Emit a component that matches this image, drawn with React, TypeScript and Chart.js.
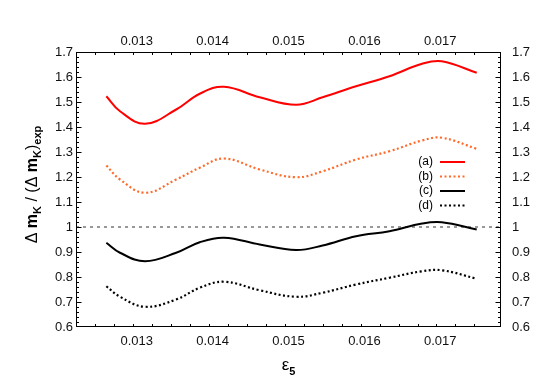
import { useEffect, useRef } from "react";
import { Chart, registerables } from "chart.js";

Chart.register(...registerables);

// ---- data ----
const xValues = [0.0126, 0.01278, 0.01311, 0.01352, 0.01383, 0.01415, 0.01462, 0.0151, 0.01545, 0.01589, 0.01633, 0.01676, 0.01702, 0.01748];
const seriesA = [1.523, 1.463, 1.413, 1.47, 1.533, 1.561, 1.519, 1.489, 1.519, 1.563, 1.603, 1.653, 1.663, 1.617];
const seriesB = [1.246, 1.19, 1.137, 1.19, 1.237, 1.274, 1.23, 1.199, 1.223, 1.27, 1.303, 1.346, 1.357, 1.313];
const seriesC = [0.937, 0.897, 0.863, 0.897, 0.939, 0.957, 0.93, 0.908, 0.926, 0.963, 0.983, 1.014, 1.019, 0.99];
const seriesD = [0.763, 0.721, 0.681, 0.71, 0.757, 0.781, 0.747, 0.721, 0.737, 0.77, 0.797, 0.823, 0.827, 0.793];
const seriesLabels = ["(a)", "(b)", "(c)", "(d)"];
const xTicks = [0.013, 0.014, 0.015, 0.016, 0.017];
const yTicks = [0.6, 0.7, 0.8, 0.9, 1.0, 1.1, 1.2, 1.3, 1.4, 1.5, 1.6, 1.7];
const xRange = [0.0122, 0.0178];
const yRange = [0.6, 1.7];
const xMinorStep = 0.00025;
const yMinorStep = 0.02;
const refLevel = 1;

const FONT = "'Liberation Sans', Arial, Helvetica, sans-serif";

const toPoints = (ys: number[]) => ys.map((y, i) => ({ x: xValues[i], y }));

const decorPlugin = {
  id: "decor",
  afterDraw(chart: any) {
    const { ctx, chartArea: a, scales } = chart;
    const sx = scales.x;
    const sy = scales.y;
    ctx.save();
    ctx.strokeStyle = "#000";
    ctx.lineWidth = 1;
    const L = Math.round(a.left) + 0.5;
    const R = Math.round(a.right) - 0.5;
    const T = Math.round(a.top) + 0.5;
    const B = Math.round(a.bottom) - 0.5;
    ctx.strokeRect(L, T, R - L, B - T);

    const tick = (x1: number, y1: number, x2: number, y2: number) => {
      ctx.beginPath();
      ctx.moveTo(x1, y1);
      ctx.lineTo(x2, y2);
      ctx.stroke();
    };
    const nx = Math.round((xRange[1] - xRange[0]) / xMinorStep);
    for (let i = 1; i < nx; i++) {
      const v = xRange[0] + i * xMinorStep;
      const major = xTicks.some((t) => Math.abs(t - v) < 1e-7);
      const len = major ? 5 : 2.5;
      const px = Math.round(sx.getPixelForValue(v)) + 0.5;
      tick(px, T, px, T + len);
      tick(px, B, px, B - len);
    }
    const ny = Math.round((yRange[1] - yRange[0]) / yMinorStep);
    for (let i = 1; i < ny; i++) {
      const v = yRange[0] + i * yMinorStep;
      const major = yTicks.some((t) => Math.abs(t - v) < 1e-7);
      const len = major ? 5 : 2.5;
      const py = Math.round(sy.getPixelForValue(v)) + 0.5;
      tick(L, py, L + len, py);
      tick(R, py, R - len, py);
    }

    // legend
    ctx.font = `12px ${FONT}`;
    ctx.textAlign = "right";
    ctx.textBaseline = "middle";
    seriesLabels.forEach((lab, i) => {
      const ds = chart.data.datasets[i];
      const y = a.top + 110 + i * 14.5;
      ctx.fillStyle = "#000";
      ctx.fillText(lab, a.right - 68, y);
      ctx.save();
      ctx.strokeStyle = ds.borderColor;
      ctx.lineWidth = ds.borderWidth;
      ctx.setLineDash(ds.borderDash || []);
      ctx.beginPath();
      ctx.moveTo(a.right - 61, y);
      ctx.lineTo(a.right - 36, y);
      ctx.stroke();
      ctx.restore();
    });

    // y title (rotated, with subscripts)
    ctx.fillStyle = "#000";
    ctx.textAlign = "left";
    ctx.textBaseline = "alphabetic";
    const pieces = [
      { t: "\u0394 ", f: `16px ${FONT}`, d: 0 },
      { t: "m", f: `bold 16px ${FONT}`, d: 0 },
      { t: "K", f: `bold 11px ${FONT}`, d: 4 },
      { t: " / (", f: `16px ${FONT}`, d: 0 },
      { t: "\u0394 ", f: `16px ${FONT}`, d: 0 },
      { t: "m", f: `bold 16px ${FONT}`, d: 0 },
      { t: "K", f: `bold 11px ${FONT}`, d: 4 },
      { t: ")", f: `16px ${FONT}`, d: 0 },
      { t: "exp", f: `bold 11px ${FONT}`, d: 4 },
    ];
    let total = 0;
    pieces.forEach((p) => {
      ctx.font = p.f;
      total += ctx.measureText(p.t).width;
    });
    ctx.save();
    ctx.translate(37, (a.top + a.bottom) / 2 - 5);
    ctx.rotate(-Math.PI / 2);
    let cx = -total / 2;
    pieces.forEach((p) => {
      ctx.font = p.f;
      ctx.fillText(p.t, cx, p.d);
      cx += ctx.measureText(p.t).width;
    });
    ctx.restore();

    // x title
    ctx.font = `17px ${FONT}`;
    const w1 = ctx.measureText("\u03b5").width;
    ctx.font = `bold 11px ${FONT}`;
    const w2 = ctx.measureText("5").width;
    const startX = (a.left + a.right) / 2 - (w1 + w2) / 2;
    ctx.font = `17px ${FONT}`;
    ctx.fillText("\u03b5", startX, 370);
    ctx.font = `bold 11px ${FONT}`;
    ctx.fillText("5", startX + w1, 375);
    ctx.restore();
  },
};

const tickFont = { family: FONT, size: 13 };

function xAxis(position: string, pad: number, h: number) {
  return {
    type: "linear",
    position,
    min: xRange[0],
    max: xRange[1],
    grid: { display: false, drawTicks: false, tickLength: 0 },
    border: { display: false },
    ticks: {
      font: tickFont,
      color: "#111",
      padding: pad,
      maxRotation: 0,
      autoSkip: false,
      callback: (v: any) => Number(v).toFixed(3),
    },
    afterBuildTicks: (s: any) => {
      s.ticks = xTicks.map((value) => ({ value }));
    },
    afterFit: (s: any) => {
      s.height = h;
    },
  };
}

function yAxis(position: string, pad: number, w: number) {
  return {
    type: "linear",
    position,
    min: yRange[0],
    max: yRange[1],
    grid: { display: false, drawTicks: false, tickLength: 0 },
    border: { display: false },
    ticks: {
      font: tickFont,
      color: "#111",
      padding: pad,
      autoSkip: false,
      callback: (v: any) => String(Number(Number(v).toFixed(1))),
    },
    afterBuildTicks: (s: any) => {
      s.ticks = yTicks.map((value) => ({ value }));
    },
    afterFit: (s: any) => {
      s.width = w;
    },
  };
}

const lineCommon = { pointRadius: 0, tension: 0.4, cubicInterpolationMode: "default", fill: false };

export default function App() {
  const ref = useRef<HTMLCanvasElement | null>(null);
  useEffect(() => {
    if (!ref.current) return;
    const chart = new Chart(ref.current, {
      type: "line",
      data: {
        datasets: [
          { label: seriesLabels[0], data: toPoints(seriesA), borderColor: "#ff0000", borderWidth: 2, ...lineCommon },
          { label: seriesLabels[1], data: toPoints(seriesB), borderColor: "#ff6a2a", borderWidth: 2.2, borderDash: [2, 2.5], ...lineCommon },
          { label: seriesLabels[2], data: toPoints(seriesC), borderColor: "#000000", borderWidth: 2, ...lineCommon },
          { label: seriesLabels[3], data: toPoints(seriesD), borderColor: "#000000", borderWidth: 2.2, borderDash: [2, 2.5], ...lineCommon },
          { label: "ref", data: [{ x: xRange[0], y: refLevel }, { x: xRange[1], y: refLevel }], borderColor: "#333", borderWidth: 1, borderDash: [3, 4], pointRadius: 0, fill: false },
        ],
      } as any,
      options: {
        animation: false,
        responsive: false,
        layout: { padding: 0 },
        plugins: { legend: { display: false }, tooltip: { enabled: false } },
        scales: {
          x: xAxis("bottom", 7, 55),
          x2: xAxis("top", 3, 52),
          y: yAxis("left", 3, 76),
          y2: yAxis("right", 11, 44),
        } as any,
      },
      plugins: [decorPlugin],
    });
    return () => chart.destroy();
  }, []);
  return (
    <canvas
      ref={ref}
      width={545}
      height={382}
      style={{ position: "absolute", left: 0, top: 0, display: "block" }}
    />
  );
}
